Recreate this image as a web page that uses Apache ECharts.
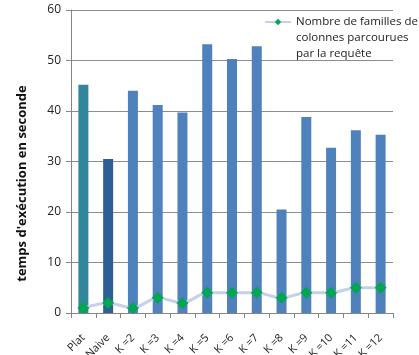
<!DOCTYPE html>
<html>
<head>
<meta charset="utf-8">
<script src="https://cdn.jsdelivr.net/npm/echarts@6/dist/echarts.min.js"></script>
<style>
  html, body { margin: 0; padding: 0; background: #fff; }
  #main { width: 419px; height: 355px; }
</style>
</head>
<body>
<div id="main"></div>
<script>
var categories = ['Plat', 'Naive', 'K =2', 'K =3', 'K =4', 'K =5', 'K =6', 'K =7', 'K =8', 'K =9', 'K =10', 'K =11', 'K =12'];
var execTimes = [45.2, 30.5, 44, 41.2, 39.7, 53.2, 50.3, 52.8, 20.5, 38.8, 32.7, 36.2, 35.3];
var families = [1, 2, 1, 3, 2, 4, 4, 4, 3, 4, 4, 5, 5];
var barColors = ['#31869B', '#2D5E96'];
var lineName = 'Nombre de familles de\ncolonnes parcourues\npar la requête';

var myChart = echarts.init(document.getElementById('main'));

var barData = execTimes.map(function (v, i) {
    return {
        value: v,
        itemStyle: { color: barColors[i] || '#4F81BD' }
    };
});

var option = {
    animation: false,
    textStyle: { fontFamily: 'Open Sans' },
    grid: { left: 71, right: 26, top: 10, bottom: 42, outerBoundsMode: 'none' },
    legend: {
        data: [lineName],
        left: 259,
        top: -23,
        itemWidth: 26,
        itemHeight: 8,
        itemGap: 4,
        // two blank lines on top so the icon sits on the first text line
        formatter: function (name) {
            return '\n\n' + name;
        },
        textStyle: {
            fontSize: 11.5,
            color: '#222',
            lineHeight: 16
        }
    },
    xAxis: {
        type: 'category',
        data: categories,
        axisLine: { lineStyle: { color: '#868686' } },
        axisTick: { show: true, length: 5, lineStyle: { color: '#868686' } },
        axisLabel: { rotate: 45, fontSize: 11, color: '#222', margin: 23, interval: 0 }
    },
    yAxis: {
        type: 'value',
        min: 0,
        max: 60,
        interval: 10,
        name: "temps d'exécution en seconde",
        nameLocation: 'middle',
        nameRotate: 90,
        nameGap: 42,
        nameTextStyle: {
            fontSize: 13,
            fontWeight: 'bold',
            color: '#111',
            padding: [0, 44, 0, 0]
        },
        axisLine: { show: true, lineStyle: { color: '#868686' } },
        axisTick: { show: true, length: 5, lineStyle: { color: '#868686' } },
        axisLabel: { fontSize: 12, color: '#222', margin: 10 },
        splitLine: { lineStyle: { color: '#8C8C8C' } }
    },
    series: [
        {
            type: 'bar',
            name: 'temps',
            data: barData,
            barWidth: 10
        },
        {
            type: 'line',
            name: lineName,
            data: families,
            smooth: 0.3,
            symbol: 'diamond',
            symbolSize: 12,
            lineStyle: { color: '#C7D0EA', width: 3 },
            itemStyle: { color: '#00A651' }
        }
    ]
};

myChart.setOption(option);
window.addEventListener('resize', function () {
    myChart.resize();
});
</script>
</body>
</html>
